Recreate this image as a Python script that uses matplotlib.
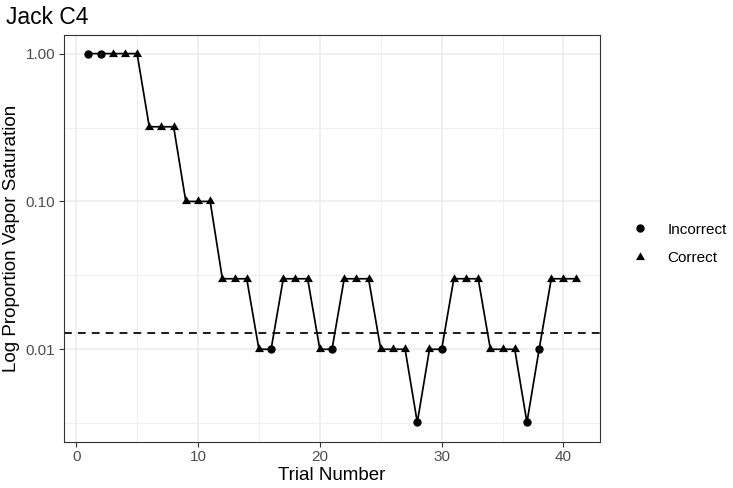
import numpy as np
import matplotlib.pyplot as plt
from matplotlib.lines import Line2D
from matplotlib.path import Path

plt.rcParams['font.family'] = ['Liberation Sans', 'DejaVu Sans']

# Data
trial = list(range(1, 42))
saturation = [1.0, 1.0, 1.0, 1.0, 1.0,
              0.32, 0.32, 0.32,
              0.1, 0.1, 0.1,
              0.03, 0.03, 0.03,
              0.01, 0.01,
              0.03, 0.03, 0.03,
              0.01, 0.01,
              0.03, 0.03, 0.03,
              0.01, 0.01, 0.01,
              0.0032,
              0.01, 0.01,
              0.03, 0.03, 0.03,
              0.01, 0.01, 0.01,
              0.0032,
              0.01,
              0.03, 0.03, 0.03]
response = ["Incorrect", "Incorrect", "Correct", "Correct", "Correct",
            "Correct", "Correct", "Correct",
            "Correct", "Correct", "Correct",
            "Correct", "Correct", "Correct",
            "Correct", "Incorrect",
            "Correct", "Correct", "Correct",
            "Correct", "Incorrect",
            "Correct", "Correct", "Correct",
            "Correct", "Correct", "Correct",
            "Incorrect",
            "Correct", "Incorrect",
            "Correct", "Correct", "Correct",
            "Correct", "Correct", "Correct",
            "Incorrect",
            "Incorrect",
            "Correct", "Correct", "Correct"]
threshold = 0.0128

x_ticks = [0, 10, 20, 30, 40]
y_ticks = [0.01, 0.1, 1.0]
y_ticklabels = ["0.01", "0.10", "1.00"]

# R-style triangle (centred on circumcentre)
r_tri = Path([(0, 1), (-0.866, -0.5), (0.866, -0.5), (0, 1)],
             [Path.MOVETO, Path.LINETO, Path.LINETO, Path.CLOSEPOLY])
TRI_MS = 7.5
CIR_MS = 5.0

fig = plt.figure(figsize=(7.33, 4.88), dpi=100)
ax = fig.add_axes([0.0873, 0.0949, 0.8186 - 0.0873, 0.928 - 0.0949])

ax.set_yscale('log')
ax.set_xlim(-1, 43)
ax.set_ylim(10 ** -2.625, 10 ** 0.125)

# grid (ggplot theme_bw)
for v in [5, 15, 25, 35]:
    ax.axvline(v, color='#EBEBEB', lw=0.55, zorder=0)
for v in x_ticks:
    ax.axvline(v, color='#EBEBEB', lw=1.1, zorder=0)
for v in [10 ** -0.5, 10 ** -1.5, 10 ** -2.5]:
    ax.axhline(v, color='#EBEBEB', lw=0.55, zorder=0)
for v in y_ticks:
    ax.axhline(v, color='#EBEBEB', lw=1.1, zorder=0)

ax.plot(trial, saturation, color='black', lw=1.25, zorder=2)
ax.axhline(threshold, color='black', lw=1.25, ls=(0, (4.5, 3.5)), zorder=2)

tri = np.array(response) == "Correct"
x = np.array(trial)
y = np.array(saturation)
ax.plot(x[~tri], y[~tri], marker='o', color='black', ms=CIR_MS, ls='none', zorder=3)
ax.plot(x[tri], y[tri], marker=r_tri, color='black', ms=TRI_MS, mew=0, ls='none', zorder=3)

ax.set_xticks(x_ticks)
ax.set_xticklabels([str(v) for v in x_ticks])
ax.set_yticks(y_ticks)
ax.set_yticklabels(y_ticklabels)
ax.minorticks_off()
ax.tick_params(axis='both', which='major', length=3.8, width=0.8, color='#333333',
               labelcolor='#4D4D4D', labelsize=11, pad=2.5)
for s in ax.spines.values():
    s.set_color('#333333')
    s.set_linewidth(0.8)

ax.set_xlabel("Trial Number", fontsize=13.5, color='black', labelpad=2)
ax.set_ylabel("Log Proportion Vapor Saturation", fontsize=13.5, color='black', labelpad=4)
fig.text(0.0085, 0.965, "Jack C4", fontsize=16.5, color='black', va='center', ha='left')

handles = [Line2D([], [], marker='o', color='black', ls='none', ms=CIR_MS),
           Line2D([], [], marker=r_tri, color='black', ls='none', ms=TRI_MS, mew=0)]
fig.legend(handles, ["Incorrect", "Correct"], loc='center left',
           bbox_to_anchor=(0.842, 0.5), frameon=False, fontsize=11,
           handletextpad=1.2, labelspacing=0.95, handlelength=1.2)

fig.savefig("out.png", dpi=100)
